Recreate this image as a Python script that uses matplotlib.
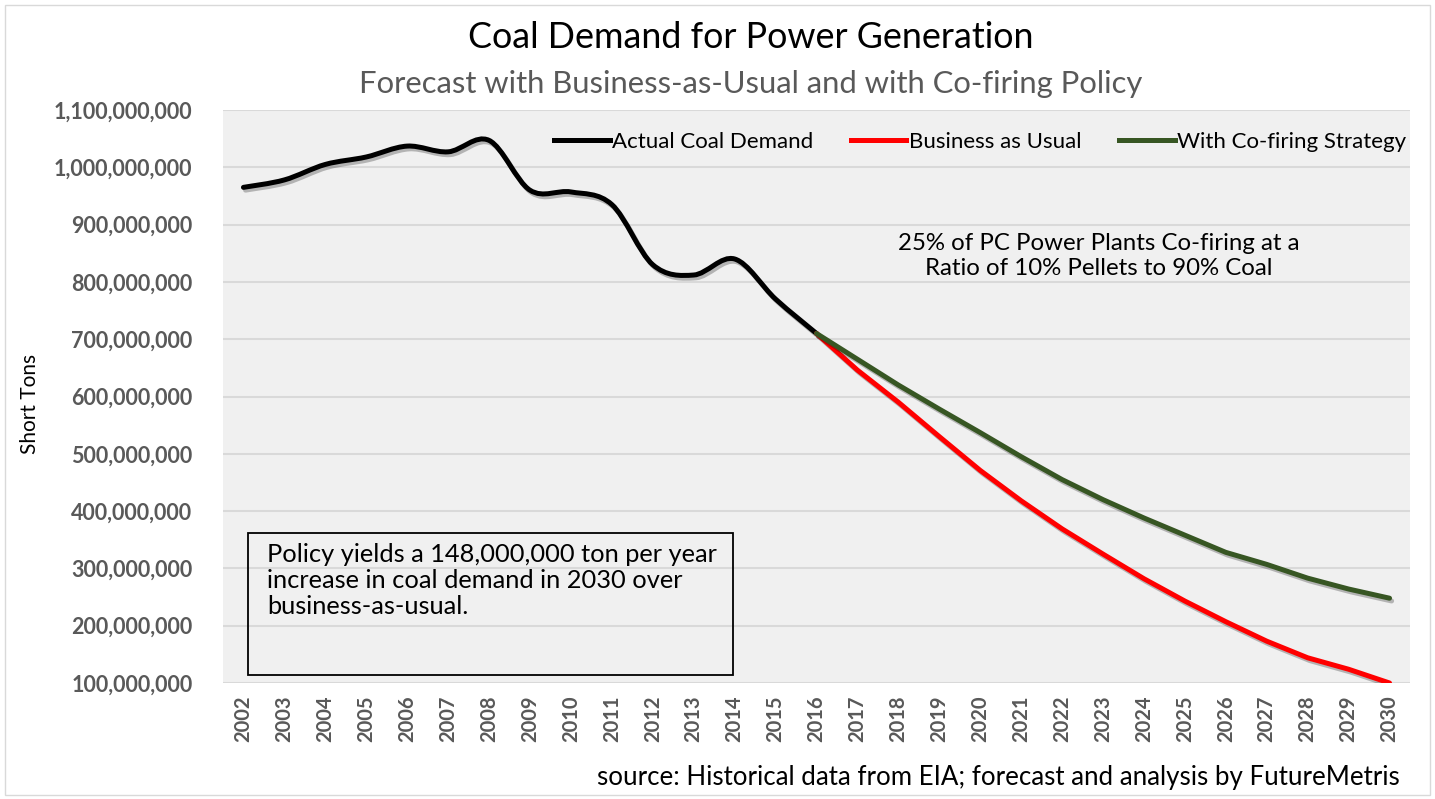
import matplotlib
matplotlib.use('Agg')
import matplotlib.pyplot as plt
import matplotlib.patheffects as pe
from matplotlib.path import Path
from matplotlib.patches import PathPatch, Rectangle
from matplotlib.lines import Line2D
from matplotlib.ticker import FuncFormatter

plt.rcParams['font.family'] = ['Lato', 'DejaVu Sans']

# values in millions of short tons
years = list(range(2002, 2031))
actual_years = list(range(2002, 2017))
actual = [965, 978, 1005, 1018, 1037, 1027, 1047, 960, 957, 935, 830, 812, 840, 770, 710]
forecast_years = list(range(2016, 2031))
bau = [710, 646, 590, 530, 471, 418, 369, 325, 282, 243, 207, 173, 144, 124, 100]
cofire = [710, 665, 620, 578, 537, 495, 455, 420, 388, 358, 328, 307, 283, 264, 248]

labels = ['Actual Coal Demand', 'Business as Usual', 'With Co-firing Strategy']
colors = ['black', '#FF0000', '#375623']


def smooth_path(xs, ys):
    # Excel style smoothed line: bezier segments through the points
    pts = list(zip(xs, ys))
    verts = [pts[0]]
    codes = [Path.MOVETO]
    n = len(pts)
    for i in range(n - 1):
        p0 = pts[i - 1] if i > 0 else pts[i]
        p1 = pts[i]
        p2 = pts[i + 1]
        p3 = pts[i + 2] if i + 2 < n else pts[i + 1]
        c1 = (p1[0] + (p2[0] - p0[0]) / 6, p1[1] + (p2[1] - p0[1]) / 6)
        c2 = (p2[0] - (p3[0] - p1[0]) / 6, p2[1] - (p3[1] - p1[1]) / 6)
        verts += [c1, c2, p2]
        codes += [Path.CURVE4] * 3
    return Path(verts, codes)


shadow = [pe.SimpleLineShadow(offset=(1.5, -2), shadow_color='black', alpha=0.25), pe.Normal()]

fig = plt.figure(figsize=(14.35, 7.99), dpi=100)
ax = fig.add_axes([223 / 1435, 1 - 683 / 799, 1187 / 1435, 573 / 799])
ax.set_facecolor('#F0F0F0')

lw = 3.6
patch = PathPatch(smooth_path(actual_years, [v * 1e6 for v in actual]), fill=False,
                  edgecolor=colors[0], lw=lw, capstyle='round', path_effects=shadow)
ax.add_patch(patch)
ax.plot(forecast_years, [v * 1e6 for v in bau], color=colors[1], lw=lw,
        solid_capstyle='round', path_effects=shadow)
ax.plot(forecast_years, [v * 1e6 for v in cofire], color=colors[2], lw=lw,
        solid_capstyle='round', path_effects=shadow)

ax.set_xlim(2001.5, 2030.5)
ax.set_ylim(100e6, 1100e6)
ax.set_yticks([v * 1e6 for v in range(100, 1101, 100)])
ax.yaxis.set_major_formatter(FuncFormatter(lambda v, p: f'{v:,.0f}'))
ax.set_xticks(years)
ax.set_xticklabels([str(y) for y in years], rotation=90)
ax.grid(axis='y', color='#D9D9D9', lw=1.5)
ax.set_axisbelow(True)
for s in ax.spines.values():
    s.set_visible(False)
ax.tick_params(axis='y', length=0, labelcolor='#595959', labelsize=15.5, pad=22)
ax.tick_params(axis='x', length=0, labelcolor='#595959', labelsize=14.5, pad=9)
for t in ax.get_xticklabels() + ax.get_yticklabels():
    t.set_fontweight('bold')
fig.text(30 / 1435, 1 - 404 / 799, 'Short Tons', rotation=90, ha='center', va='center', fontsize=15)

handles = [Line2D([], [], color=c, lw=lw) for c in colors]
fig.legend(handles, labels, loc='center', bbox_to_anchor=(980 / 1435, 1 - 142 / 799),
           ncol=3, frameon=False, fontsize=16, handlelength=2.5, handletextpad=0.1,
           columnspacing=1.7)

fig.text(751 / 1435, 1 - 38 / 799, 'Coal Demand for Power Generation', ha='center', va='center',
         fontsize=25.8)
fig.text(751 / 1435, 1 - 84 / 799, 'Forecast with Business-as-Usual and with Co-firing Policy',
         ha='center', va='center', fontsize=22.3, color='#595959')
fig.text(1099 / 1435, 1 - 256 / 799,
         '25% of PC Power Plants Co-firing at a\nRatio of 10% Pellets to 90% Coal',
         ha='center', va='center', fontsize=17.3, linespacing=1.25)

fig.add_artist(Rectangle((248 / 1435, 1 - 675 / 799), 485 / 1435, 142 / 799,
                         transform=fig.transFigure, fill=False, edgecolor='black', lw=1.3))
fig.text(267 / 1435, 1 - 543 / 799,
         'Policy yields a 148,000,000 ton per year\nincrease in coal demand in 2030 over\nbusiness-as-usual.',
         ha='left', va='top', fontsize=18.3, linespacing=1.15)

fig.text(1400 / 1435, 1 - 778 / 799,
         'source: Historical data from EIA; forecast and analysis by FutureMetris',
         ha='right', va='center', fontsize=18.6)

fig.add_artist(Rectangle((5 / 1435, 4 / 799), 1425 / 1435, 790 / 799, transform=fig.transFigure,
                         fill=False, edgecolor='#D9D9D9', lw=1))

fig.savefig('out.png', dpi=100)
